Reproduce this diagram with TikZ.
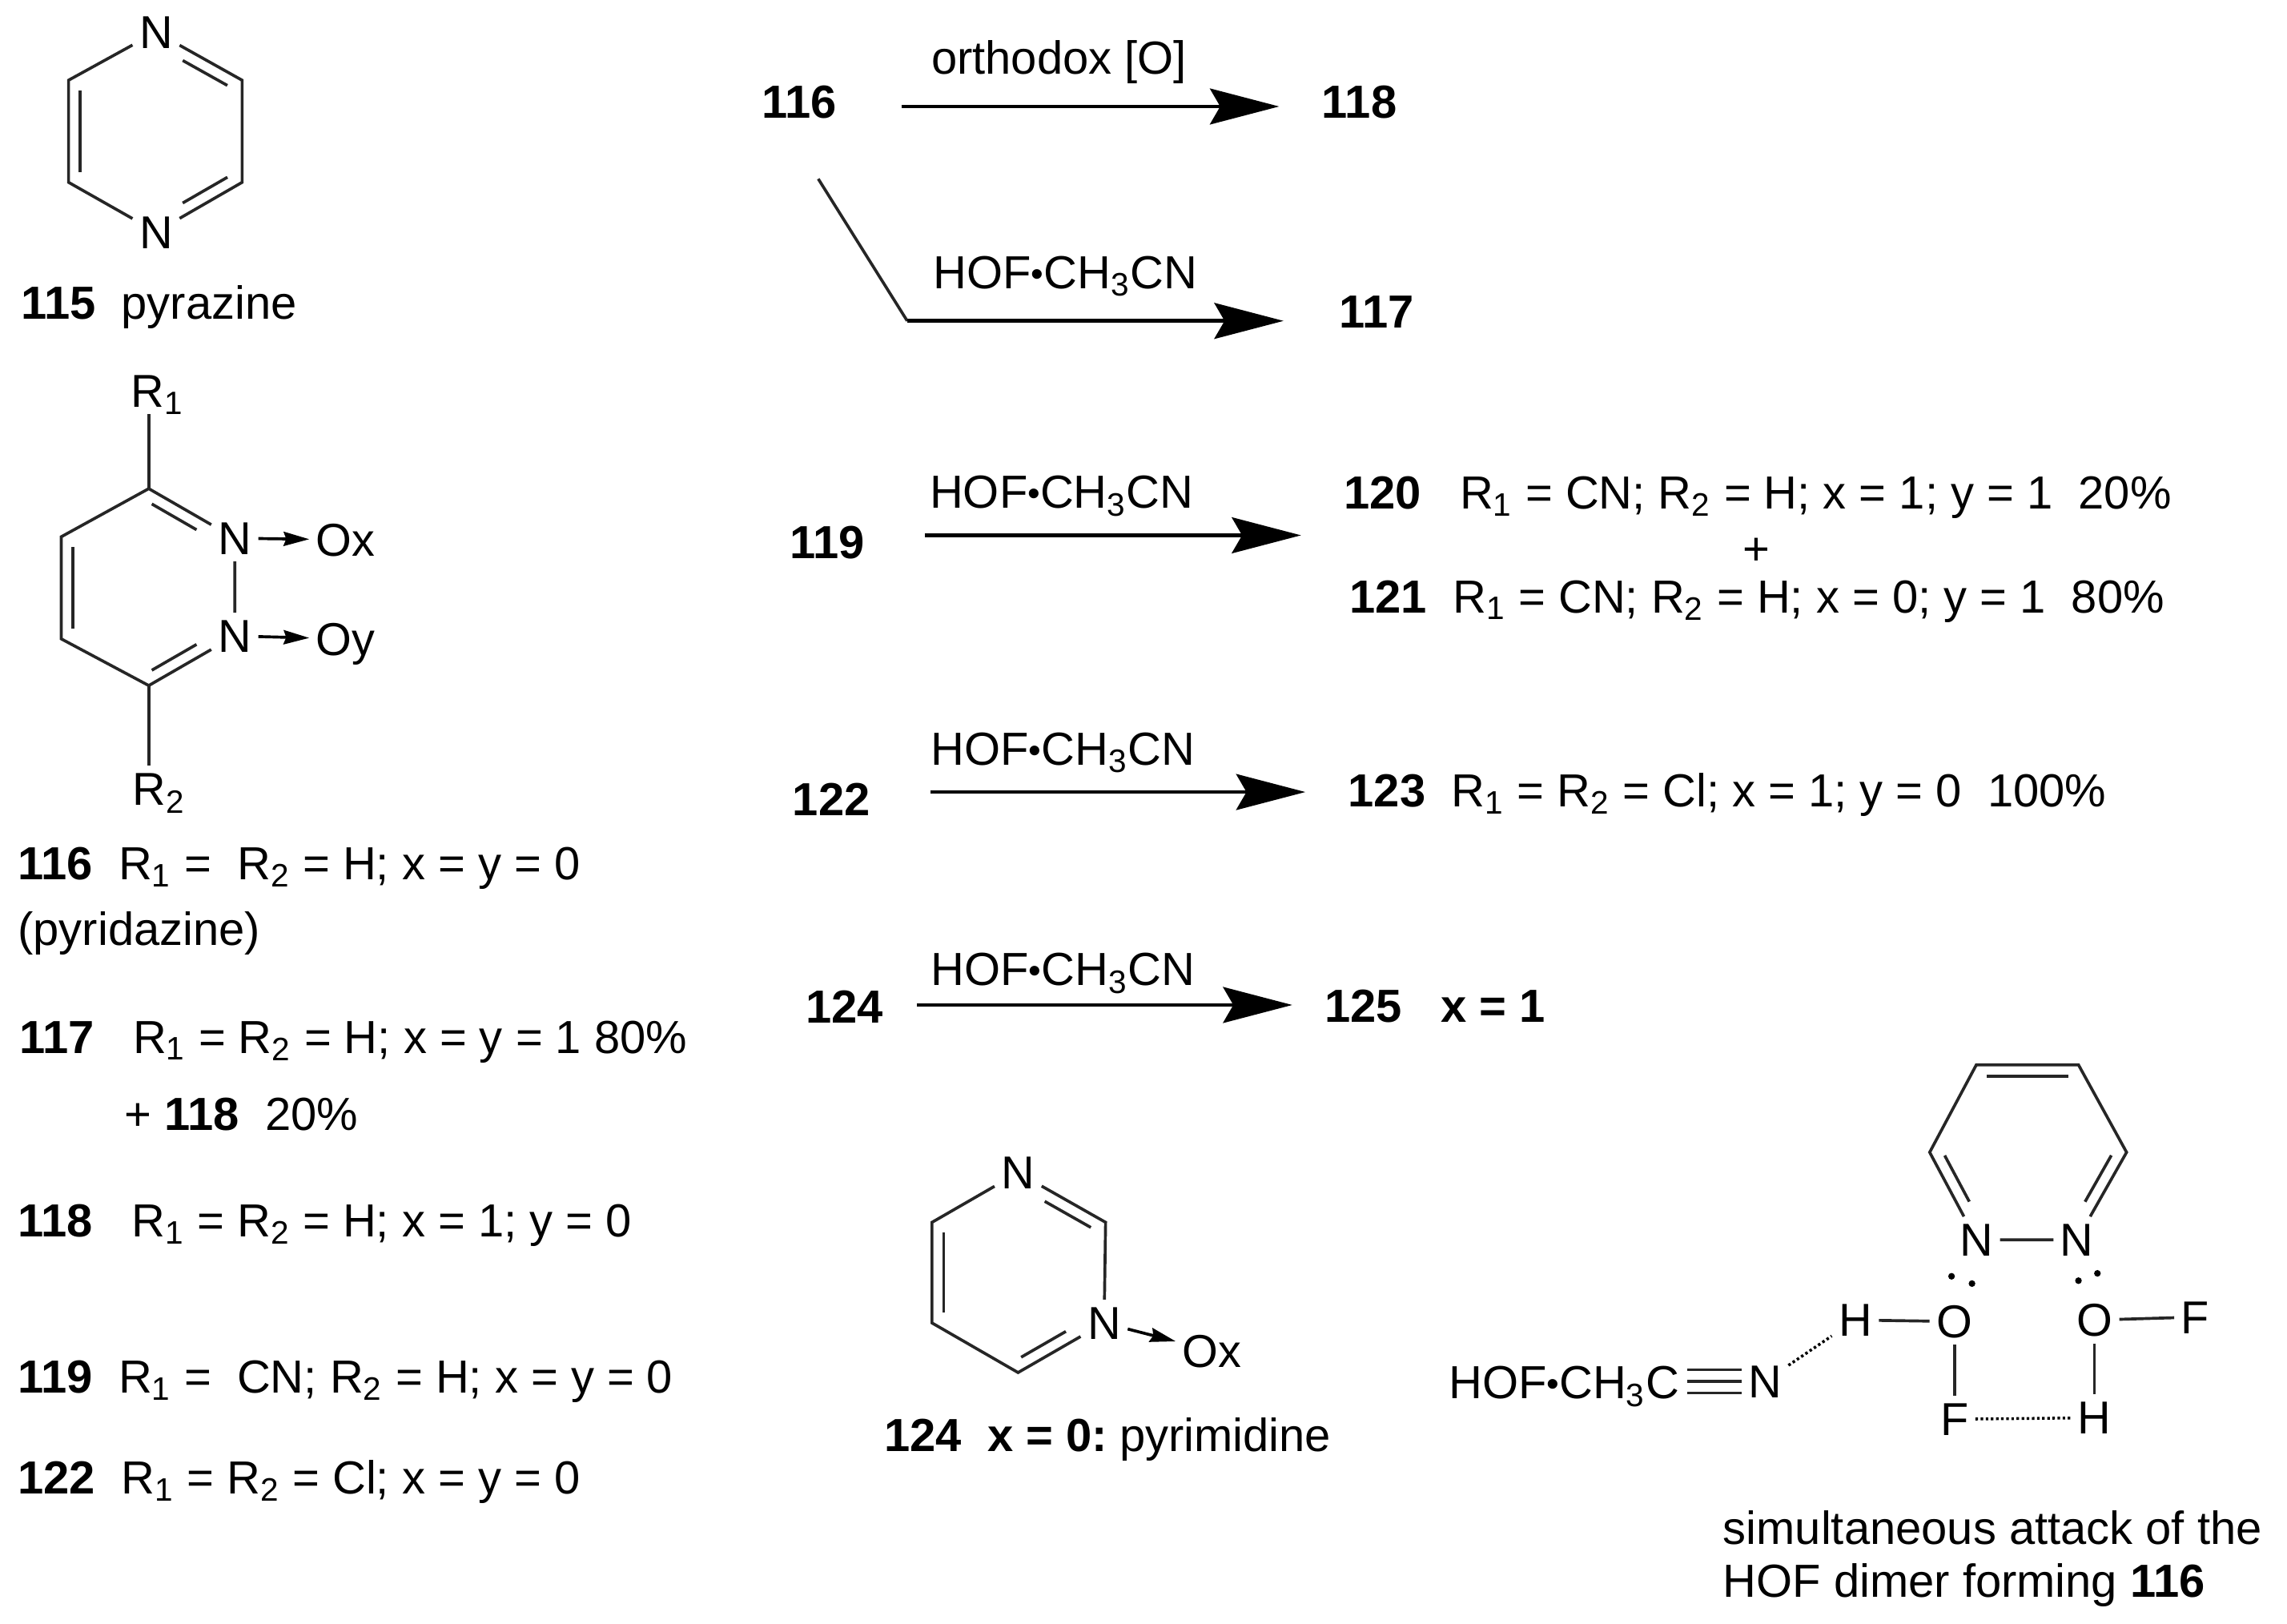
\documentclass[tikz,border=0pt]{standalone}
\usepackage{fontspec}
\setmainfont{Liberation Sans}
\usetikzlibrary{arrows.meta, calc}

\newcommand{\hofdot}{{\fontsize{14}{14}\selectfont\raisebox{1pt}{\textbullet}}}
\newcommand{\hofcn}{HOF\hofdot CH\textsubscript{3}CN}
\newcommand{\Rone}{R\textsubscript{1}}
\newcommand{\Rtwo}{R\textsubscript{2}}

\begin{document}
\begin{tikzpicture}[
  x=0.02cm, y=-0.02cm,
  txt/.style = {
    inner sep=0pt,
    anchor=base west,
    font=\fontsize{18.1}{20}\selectfont
  },
  num/.style = {
    inner sep=0pt,
    font=\fontsize{18.1}{20}\selectfont\bfseries
  },
  atom/.style = {
    inner sep=2.5pt,
    text height=12.8pt,
    text depth=0pt,
    font=\fontsize{18}{20}\selectfont
  },
  bond/.style = {line width=1.15pt, draw=black!85},
  inner_bond/.style 2 args = {
    bond,
    transform canvas={shift={(#1,#2)}},
    shorten <=4pt,
    shorten >=4pt
  },
  arrow/.style = {line width=1.4pt, draw=black, -{Stealth[length=27pt, width=14pt, inset=4pt]}},
  dative/.style = {line width=1.15pt, draw=black, -{Stealth[length=10pt, width=5.5pt, inset=1pt]}},
  hbond/.style = {line width=1.1pt, dash pattern=on 1pt off 1pt},
  lone_dot/.style = {circle, fill=black, inner sep=0pt, minimum size=2.6pt},
  arrow_text/.style = {
    anchor=base,
    inner sep=0pt,
    font=\fontsize{18.1}{20}\selectfont
  }
]
\useasboundingbox (0,0) rectangle (1568,1113);

% ======================================================
% PYRAZINE
% ======================================================

\node[atom] (pyz_n1) at (107,22) {N};
\node[atom] (pyz_n2) at (107,159) {N};
\coordinate (pyz_a) at (166,55);
\coordinate (pyz_b) at (166,125);
\coordinate (pyz_c) at (47,125);
\coordinate (pyz_d) at (47,55);

\draw[bond] (pyz_n1) -- (pyz_a) -- (pyz_b) -- (pyz_n2) -- (pyz_c) -- (pyz_d) -- (pyz_n1);
\draw[inner_bond={-4}{7}] (pyz_n1) -- (pyz_a);
\draw[inner_bond={-4}{-7}] (pyz_b) -- (pyz_n2);
\draw[inner_bond={8}{0}] (pyz_c) -- (pyz_d);

\node[txt] (lab_115) at (14,219) {\textbf{115}\ \ pyrazine};

% ======================================================
% PYRIDAZINE WITH R GROUPS
% ======================================================

\node[atom] (pdz_n1) at (161,369) {N};
\node[atom] (pdz_n2) at (161,436) {N};
\node[atom] (pdz_r1) at (108,268) {\Rone};
\node[atom] (pdz_r2) at (109,541) {\Rtwo};
\node[atom] (pdz_ox) at (237,370) {Ox};
\node[atom] (pdz_oy) at (237,438) {Oy};
\coordinate (pdz_c1) at (102,335);
\coordinate (pdz_c2) at (102,470);
\coordinate (pdz_c3) at (42,438);
\coordinate (pdz_c4) at (42,368);

\draw[bond] (pdz_n1) -- (pdz_c1) -- (pdz_c4) -- (pdz_c3) -- (pdz_c2) -- (pdz_n2) -- (pdz_n1);
\draw[bond] (pdz_r1.south -| pdz_c1) -- (pdz_c1);
\draw[bond] (pdz_c2) -- (pdz_r2.north -| pdz_c2);
\draw[inner_bond={-4}{7}] (pdz_c1) -- (pdz_n1);
\draw[inner_bond={-4}{-7}] (pdz_n2) -- (pdz_c2);
\draw[inner_bond={8}{0}] (pdz_c3) -- (pdz_c4);
\draw[dative] (pdz_n1) -- (pdz_ox);
\draw[dative] (pdz_n2) -- (pdz_oy);

% ======================================================
% LEFT COLUMN TEXTS
% ======================================================

\node[txt] (lab_116) at (12,603) {\textbf{116}\ \ \Rone\ =\ \ \Rtwo\ = H; x = y = 0};
\node[txt] (lab_pdz) at (12,648) {(pyridazine)};
\node[txt] (lab_117) at (13,722) {\textbf{117}\ \ \ \Rone\ = \Rtwo\ = H; x = y = 1 80\%};
\node[txt] (lab_118a) at (85,775) {+ \textbf{118}\ \ 20\%};
\node[txt] (lab_118) at (12,848) {\textbf{118}\ \ \ \Rone\ = \Rtwo\ = H; x = 1; y = 0};
\node[txt] (lab_119) at (12,955) {\textbf{119}\ \ \Rone\ =\ \ CN; \Rtwo\ = H; x = y = 0};
\node[txt] (lab_122) at (12,1024) {\textbf{122}\ \ \Rone\ = \Rtwo\ = Cl; x = y = 0};

% ======================================================
% REACTIONS
% ======================================================

\node[num] (r_116) at (548,70) {116};
\node[num] (r_118) at (932,70) {118};
\node[num] (r_117) at (944,214) {117};
\coordinate (r_elbow) at (622,220);

\draw[arrow] ($(r_116.east)+(44,3)$) -- node[arrow_text, pos=.417, yshift=12.8pt] (t_ortho) {orthodox [O]} ($(r_118.west)+(-29,3)$);
\draw[bond] ($(r_116.south)+(13,41)$) -- (r_elbow);
\draw[arrow] (r_elbow) -- node[arrow_text, pos=.42, yshift=12.5pt] (t_hof_a) {\hofcn} ($(r_117.west)+(-38,6)$);

\node[num] (r_119) at (567,372) {119};
\node[txt] (r_120) at (921,349) {\textbf{120}\ \ \ \Rone\ = CN; \Rtwo\ = H; x = 1; y = 1\ \ 20\%};
\node[txt, anchor=center] (r_plus) at (1204,378) {+};
\node[txt] (r_121) at (925,420) {\textbf{121}\ \ \Rone\ = CN; \Rtwo\ = H; x = 0; y = 1\ \ 80\%};
\coordinate (r_120_end) at (892,367);
\draw[arrow] ($(r_119.east)+(41,-5)$) -- node[arrow_text, pos=.364, yshift=10.5pt] (t_hof_b) {\hofcn} (r_120_end);

\node[num] (r_122) at (570,548) {122};
\node[txt] (r_123) at (924,553) {\textbf{123}\ \ \Rone\ = \Rtwo\ = Cl; x = 1; y = 0\ \ 100\%};
\draw[arrow] ($(r_122.east)+(41,-5)$) -- node[arrow_text, pos=.353, yshift=10.5pt] (t_hof_c) {\hofcn} ($(r_123.base west)+(-29,-10)$);

\node[num] (r_124) at (579,690) {124};
\node[txt] (r_125) at (908,701) {\textbf{125}\ \ \ \textbf{x = 1}};
\draw[arrow] ($(r_124.east)+(23,-1)$) -- node[arrow_text, pos=.388, yshift=7.5pt] (t_hof_d) {\hofcn} ($(r_125.base west)+(-22,-12)$);

% ======================================================
% PYRIMIDINE
% ======================================================

\node[atom] (pym_n1) at (698,804) {N};
\node[atom] (pym_n2) at (757,907) {N};
\node[atom] (pym_ox) at (831,926) {Ox};
\coordinate (pym_a) at (758,838);
\coordinate (pym_b) at (698,941);
\coordinate (pym_c) at (639,907);
\coordinate (pym_d) at (639,838);

\draw[bond] (pym_n1) -- (pym_a) -- (pym_n2) -- (pym_b) -- (pym_c) -- (pym_d) -- (pym_n1);
\draw[inner_bond={-4}{7}] (pym_n1) -- (pym_a);
\draw[inner_bond={-4}{-7}] (pym_n2) -- (pym_b);
\draw[inner_bond={8}{0}] (pym_c) -- (pym_d);
\draw[dative] (pym_n2) -- (pym_ox);

\node[txt] (lab_124) at (606,995) {\textbf{124\ \ x = 0:}\hspace{-2pt} pyrimidine};

% ======================================================
% HOF DIMER ATTACK
% ======================================================

\node[atom] (dim_n1) at (1355,850) {N};
\node[atom] (dim_n2) at (1424,850) {N};
\coordinate (dim_a) at (1458,790);
\coordinate (dim_b) at (1425,730);
\coordinate (dim_c) at (1355,730);
\coordinate (dim_d) at (1323,790);

\draw[bond] (dim_n1) -- (dim_d) -- (dim_c) -- (dim_b) -- (dim_a) -- (dim_n2) -- (dim_n1);
\draw[inner_bond={7}{-4}] (dim_d) -- (dim_n1);
\draw[inner_bond={0}{8}] (dim_c) -- (dim_b);
\draw[inner_bond={-7}{-4}] (dim_a) -- (dim_n2);

\node[lone_dot] (dot_a) at (1338,875) {};
\node[lone_dot] (dot_b) at (1352,880) {};
\node[lone_dot] (dot_c) at (1425,878) {};
\node[lone_dot] (dot_d) at (1438,873) {};

\node[atom] (dim_h1) at (1272,905) {H};
\node[atom] (dim_o1) at (1340,906) {O};
\node[atom] (dim_f1) at (1340,973) {F};
\node[atom] (dim_o2) at (1436,905) {O};
\node[atom] (dim_f2) at (1505,903) {F};
\node[atom] (dim_h2) at (1436,972) {H};

\draw[bond] (dim_h1) -- (dim_o1);
\draw[bond] (dim_o1) -- (dim_f1);
\draw[bond] (dim_o2) -- (dim_f2);
\draw[bond] (dim_o2) -- (dim_h2);
\draw[hbond] (dim_f1) -- (dim_h2);

\node[txt] (dim_hof) at (993,959) {HOF\hofdot CH\textsubscript{3}C};
\node[atom] (dim_n3) at (1210,947) {N};
\coordinate (dim_cc) at ($(dim_hof.base east)+(5,-12)$);

\draw[bond] (dim_cc) -- (dim_n3);
\draw[bond, transform canvas={shift={(0,-8)}}] (dim_cc) -- (dim_n3);
\draw[bond, transform canvas={shift={(0,8)}}] (dim_cc) -- (dim_n3);
\draw[hbond] (dim_n3) -- (dim_h1);

\node[txt] (cap_a) at (1181,1059) {simultaneous attack of the};
\node[txt] (cap_b) at (1181,1095) {HOF dimer forming \textbf{116}};

\end{tikzpicture}
\end{document}
